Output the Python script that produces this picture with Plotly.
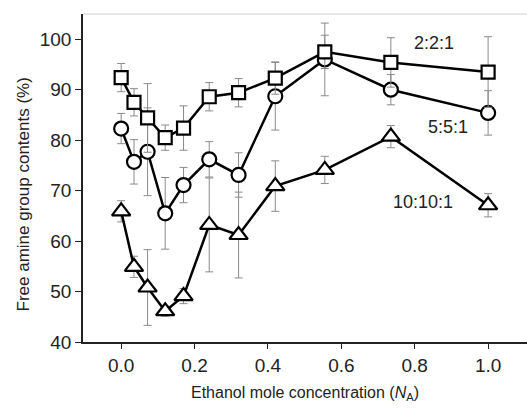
import plotly.graph_objects as go

x_na = [0.0, 0.035, 0.072, 0.12, 0.17, 0.24, 0.32, 0.42, 0.555, 0.735, 1.0]

sq_vals = [92.4, 87.5, 84.4, 80.5, 82.4, 88.6, 89.4, 92.3, 97.5, 95.4, 93.5]
sq_err = [2.8, 2.7, 6.8, 2.5, 4.4, 2.8, 2.8, 3.2, 3.3, 4.9, 7.0]

ci_vals = [82.3, 75.7, 77.7, 65.5, 71.1, 76.2, 73.1, 88.7, 96.0, 90.0, 85.4]
ci_err = [3.0, 4.4, 8.7, 7.1, 3.5, 3.5, 4.4, 6.7, 7.2, 3.0, 4.4]

tr_vals = [65.9, 54.9, 50.8, 46.1, 49.1, 63.2, 61.2, 70.9, 74.1, 80.7, 67.1]
tr_err = [2.1, 2.1, 7.5, 1.0, 1.5, 9.3, 8.5, 5.0, 2.7, 2.2, 2.3]

series_names = ["2:2:1", "5:5:1", "10:10:1"]
label_x = [0.853, 0.891, 0.823]
label_y = [99.2, 82.6, 67.7]

y_ticks = [40, 50, 60, 70, 80, 90, 100]
x_ticks = [0.0, 0.2, 0.4, 0.6, 0.8, 1.0]

FONT = "Liberation Sans, Arial, sans-serif"

fig = go.Figure()

def add_series(vals, err, symbol, size, name):
    fig.add_trace(go.Scatter(
        x=x_na, y=vals, name=name, mode="lines+markers",
        line=dict(color="black", width=2.5),
        marker=dict(symbol=symbol, size=size, color="white",
                    line=dict(color="black", width=2.2)),
        error_y=dict(type="data", array=err, visible=True,
                     color="#8a8a8a", thickness=1, width=4),
        showlegend=False,
    ))

add_series(tr_vals, tr_err, "triangle-up", 16, series_names[2])
add_series(ci_vals, ci_err, "circle", 14, series_names[1])
add_series(sq_vals, sq_err, "square", 13, series_names[0])

for t, lx, ly in zip(series_names, label_x, label_y):
    fig.add_annotation(x=lx, y=ly, text=t, showarrow=False,
                       font=dict(family=FONT, size=18, color="#222"))

fig.add_annotation(xref="paper", yref="paper", x=-0.135, y=0.45,
                   xanchor="center", yanchor="middle",
                   text="Free amine group contents (%)", textangle=-90,
                   showarrow=False, font=dict(family=FONT, size=17, color="#222"))

fig.add_shape(type="line", xref="paper", yref="paper", x0=0, x1=1, y0=1, y1=1,
              line=dict(color="#d0d0d0", width=1))

fig.update_layout(
    width=527, height=410,
    margin=dict(l=83, r=0, t=14, b=68),
    paper_bgcolor="white", plot_bgcolor="white",
    font=dict(family=FONT, size=19, color="#222"),
    xaxis=dict(range=[-0.104, 1.106], tickvals=x_ticks,
               ticktext=[f"{v:.1f}" for v in x_ticks],
               showgrid=False, zeroline=False, showline=True,
               linecolor="#222", linewidth=1.5, ticks="outside", ticklen=5,
               tickwidth=1.2, tickcolor="#222",
               title=dict(text="Ethanol mole concentration (<i>N</i><sub>A</sub>)",
                          font=dict(size=16), standoff=12)),
    yaxis=dict(range=[40, 105], tickvals=y_ticks,
               showgrid=False, zeroline=False, showline=True,
               linecolor="#222", linewidth=1.5, ticks="outside", ticklen=6,
               tickwidth=1.2, tickcolor="#222"),
)

fig.write_html("out.html")
